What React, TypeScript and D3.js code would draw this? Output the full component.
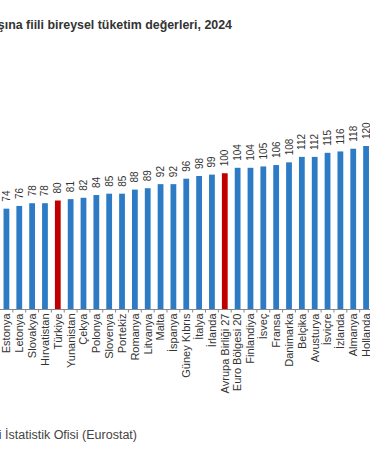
import React, { useEffect, useRef } from "react";
import * as d3 from "d3";

const countries = [
  "Estonya", "Letonya", "Slovakya", "Hırvatistan", "Türkiye", "Yunanistan",
  "Çekya", "Polonya", "Slovenya", "Portekiz", "Romanya", "Litvanya", "Malta",
  "İspanya", "Güney Kıbrıs", "İtalya", "İrlanda", "Avrupa Birliği 27",
  "Euro Bölgesi 20", "Finlandiya", "İsveç", "Fransa", "Danimarka", "Belçika",
  "Avusturya", "İsviçre", "İzlanda", "Almanya", "Hollanda",
];
const values = [
  74, 76, 78, 78, 80, 81, 82, 84, 85, 85, 88, 89, 92, 92, 96, 98, 99, 100,
  104, 104, 105, 106, 108, 112, 112, 115, 116, 118, 120,
];
const highlighted = ["Türkiye", "Avrupa Birliği 27"];

const title = "Satın alma gücü standardına göre kişi başına fiili bireysel tüketim değerleri, 2024";
const source = "Kaynak: Avrupa Birliği İstatistik Ofisi (Eurostat)";

export default function App() {
  const ref = useRef<SVGSVGElement>(null);

  useEffect(() => {
    const svg = d3.select(ref.current);
    svg.selectAll("*").remove();
    const font = "'Liberation Sans', Arial, sans-serif";
    const axisY = 309.5;

    const x = d3
      .scaleBand()
      .domain(countries)
      .range([0, 372.5])
      .paddingInner(0.55)
      .paddingOuter(0.275);
    const y = d3.scaleLinear().domain([0, 120]).range([axisY, 146]);

    // title (left part falls outside the picture)
    svg
      .append("text")
      .attr("x", 232)
      .attr("y", 28.5)
      .attr("text-anchor", "end")
      .attr("font-family", font)
      .attr("font-size", 12.4)
      .attr("font-weight", "bold")
      .attr("fill", "#333")
      .text(title);

    // bars
    svg
      .append("g")
      .selectAll("rect")
      .data(values)
      .join("rect")
      .attr("x", (d, i) => x(countries[i])!)
      .attr("y", (d) => y(d))
      .attr("width", x.bandwidth())
      .attr("height", (d) => axisY - y(d))
      .attr("fill", (d, i) => (highlighted.includes(countries[i]) ? "#C00000" : "#2C7BC4"));

    // value labels
    svg
      .append("g")
      .selectAll("text")
      .data(values)
      .join("text")
      .attr("transform", (d, i) => {
        const cx = x(countries[i])! + x.bandwidth() / 2;
        return `translate(${cx},${y(d) - 7}) rotate(-90)`;
      })
      .attr("dy", "0.35em")
      .attr("font-family", font)
      .attr("font-size", 10)
      .attr("fill", "#333")
      .text((d) => d);

    // x axis
    const axis = svg.append("g");
    axis
      .append("line")
      .attr("x1", -10)
      .attr("x2", 372)
      .attr("y1", axisY)
      .attr("y2", axisY)
      .attr("stroke", "#888")
      .attr("stroke-width", 1);
    axis
      .selectAll("line.tick")
      .data(countries)
      .join("line")
      .attr("class", "tick")
      .attr("x1", (d) => x(d)! + x.bandwidth() + (x.step() - x.bandwidth()) / 2)
      .attr("x2", (d) => x(d)! + x.bandwidth() + (x.step() - x.bandwidth()) / 2)
      .attr("y1", axisY)
      .attr("y2", axisY + 3)
      .attr("stroke", "#888");
    axis
      .selectAll("text")
      .data(countries)
      .join("text")
      .attr("transform", (d) => `translate(${x(d)! + x.bandwidth() / 2},${axisY + 4}) rotate(-90)`)
      .attr("dy", "0.35em")
      .attr("text-anchor", "end")
      .attr("font-family", font)
      .attr("font-size", 11)
      .attr("fill", "#333")
      .text((d) => d);

    // source
    svg
      .append("text")
      .attr("x", 137)
      .attr("y", 439)
      .attr("text-anchor", "end")
      .attr("font-family", font)
      .attr("font-size", 12.5)
      .attr("fill", "#444")
      .text(source);
  }, []);

  return (
    <svg
      ref={ref}
      width={370}
      height={450}
      style={{ position: "absolute", left: 0, top: 0, background: "#fff" }}
    />
  );
}
